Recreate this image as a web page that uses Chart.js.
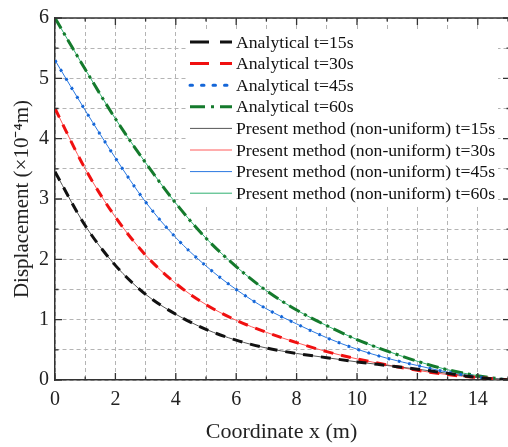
<!DOCTYPE html>
<html>
<head>
<meta charset="utf-8">
<script src="https://cdn.jsdelivr.net/npm/chart.js@4.4.0/dist/chart.umd.min.js"></script>
<style>
html, body { margin: 0; padding: 0; background: #fff; }
#wrap { width: 508px; height: 447px; }
</style>
</head>
<body>
<div id="wrap"><canvas id="dispChart"></canvas></div>
<script>
// coordinate x (m)
var xCoord = [0, 1, 2, 3, 4, 5, 6, 7, 8, 9, 10, 11, 12, 13, 14, 15];

// displacement (x10^-4 m)
var disp15 = [3.45, 2.56, 1.90, 1.42, 1.09, 0.84, 0.66, 0.53, 0.44, 0.37, 0.30, 0.24, 0.18, 0.11, 0.04, 0];
var disp30 = [4.50, 3.50, 2.70, 2.07, 1.60, 1.25, 0.99, 0.79, 0.62, 0.47, 0.35, 0.25, 0.16, 0.09, 0.04, 0];
var disp45 = [5.30, 4.47, 3.68, 2.95, 2.36, 1.89, 1.50, 1.18, 0.93, 0.70, 0.51, 0.36, 0.24, 0.13, 0.05, 0];
var disp60 = [6.00, 5.15, 4.33, 3.60, 2.93, 2.35, 1.88, 1.48, 1.16, 0.90, 0.67, 0.48, 0.31, 0.17, 0.07, 0];

var seriesLabels = [
    "Analytical t=15s", "Analytical t=30s", "Analytical t=45s", "Analytical t=60s",
    "Present method (non-uniform) t=15s", "Present method (non-uniform) t=30s",
    "Present method (non-uniform) t=45s", "Present method (non-uniform) t=60s"
];

var xLabelTicks = [0, 2, 4, 6, 8, 10, 12, 14];
var yLabelTicks = [0, 1, 2, 3, 4, 5, 6];

var serif = "'Liberation Serif', 'Times New Roman', serif";

function pts(vals) {
    return vals.map(function (v, i) { return { x: xCoord[i], y: v }; });
}

function analytical(label, vals, color, dash, legendDash) {
    return {
        label: label, data: pts(vals), borderColor: color, borderWidth: 3,
        borderDash: dash, legendDash: legendDash, pointRadius: 0,
        cubicInterpolationMode: 'monotone', fill: false
    };
}

function present(label, vals, color) {
    return {
        label: label, data: pts(vals), borderColor: color, borderWidth: 1,
        borderDash: [], pointRadius: 0, cubicInterpolationMode: 'monotone', fill: false
    };
}

// legend drawn inside the plot, top right
var insideLegend = {
    id: 'insideLegend',
    afterDraw: function (chart) {
        var ctx = chart.ctx;
        ctx.save();
        ctx.fillStyle = '#fff';
        ctx.fillRect(186, 29, 312, 176);
        chart.data.datasets.forEach(function (ds, i) {
            var y = 42 + i * 21.6;
            ctx.strokeStyle = ds.borderColor;
            ctx.lineWidth = ds.borderWidth;
            ctx.lineCap = ds.legendDash && ds.legendDash[0] < 4 ? 'round' : 'butt';
            ctx.setLineDash(ds.legendDash || []);
            ctx.beginPath();
            ctx.moveTo(190, y);
            ctx.lineTo(232, y);
            ctx.stroke();
            ctx.setLineDash([]);
            ctx.fillStyle = '#111';
            ctx.font = "17.7px " + serif;
            ctx.textBaseline = 'middle';
            ctx.fillText(ds.label, 236, y + 1);
        });
        ctx.restore();
    }
};

// top frame line and inward ticks on all four sides
var frameTicks = {
    id: 'frameTicks',
    afterDraw: function (chart) {
        var ctx = chart.ctx, a = chart.chartArea;
        var xs = chart.scales.x, ys = chart.scales.y;
        ctx.save();
        ctx.strokeStyle = '#333';
        ctx.lineWidth = 1.5;
        ctx.beginPath();
        ctx.moveTo(a.left, a.top); ctx.lineTo(a.right + 2, a.top);
        ctx.stroke();
        ctx.lineWidth = 1.3;
        ctx.beginPath();
        xs.ticks.forEach(function (t) {
            var px = xs.getPixelForValue(t.value);
            var len = (t.value % 2 === 0) ? 7 : 3.5;
            ctx.moveTo(px, a.bottom); ctx.lineTo(px, a.bottom - len);
            ctx.moveTo(px, a.top); ctx.lineTo(px, a.top + len);
        });
        ys.ticks.forEach(function (t) {
            var py = ys.getPixelForValue(t.value);
            var len = Number.isInteger(t.value) ? 7 : 3.5;
            ctx.moveTo(a.left, py); ctx.lineTo(a.left + len, py);
            ctx.moveTo(a.right + 2, py); ctx.lineTo(a.right + 2 - len, py);
        });
        ctx.stroke();
        ctx.restore();
    }
};

const ctx1 = document.getElementById("dispChart");

var dispChart = new Chart(ctx1, {
    type: 'line',
    data: {
        datasets: [
            analytical(seriesLabels[0], disp15, '#111111', [10, 8], [19, 11]),
            analytical(seriesLabels[1], disp30, '#f01010', [10, 8], [19, 11]),
            analytical(seriesLabels[2], disp45, '#1466d8', [2.5, 8], [2.5, 9]),
            analytical(seriesLabels[3], disp60, '#147a2c', [12, 5, 3, 5], [15, 6, 3, 6]),
            present(seriesLabels[4], disp15, '#555555'),
            present(seriesLabels[5], disp30, '#ff5a5a'),
            present(seriesLabels[6], disp45, '#2a78e0'),
            present(seriesLabels[7], disp60, '#2fb070')
        ]
    },
    options: {
        responsive: true,
        maintainAspectRatio: false,
        animation: false,
        layout: { padding: { top: 15, right: 0, left: 0, bottom: 0 } },
        plugins: {
            legend: { display: false },
            tooltip: { enabled: false }
        },
        scales: {
            x: {
                type: 'linear', min: 0, max: 15,
                afterFit: function (s) { s.height = 67; s.paddingLeft = 0; s.paddingRight = 0; },
                grid: { color: '#b4b4b4', lineWidth: 1, drawTicks: false },
                border: { color: '#333', width: 1.5, dash: [4, 3] },
                ticks: {
                    stepSize: 1, autoSkip: false, maxRotation: 0, padding: 8, color: '#222',
                    font: { family: serif, size: 20 },
                    callback: function (v) { return xLabelTicks.indexOf(v) >= 0 ? String(v) : ''; }
                },
                title: {
                    display: true, text: 'Coordinate x (m)', color: '#222',
                    font: { family: serif, size: 22 }, padding: { top: 0, bottom: 2 }
                }
            },
            y: {
                type: 'linear', min: 0, max: 6,
                afterFit: function (s) { s.width = 55; },
                grid: { color: '#b4b4b4', lineWidth: 1, drawTicks: false },
                border: { color: '#333', width: 1.5, dash: [4, 3] },
                ticks: {
                    stepSize: 0.5, autoSkip: false, padding: 6, color: '#222',
                    font: { family: serif, size: 20 },
                    callback: function (v) { return yLabelTicks.indexOf(v) >= 0 ? String(v) : ''; }
                },
                title: {
                    display: true, text: 'Displacement (×10⁻⁴m)', color: '#222',
                    font: { family: serif, size: 21 }, padding: { top: 10, bottom: 0 }
                }
            }
        }
    },
    plugins: [insideLegend, frameTicks]
});
</script>
</body>
</html>
